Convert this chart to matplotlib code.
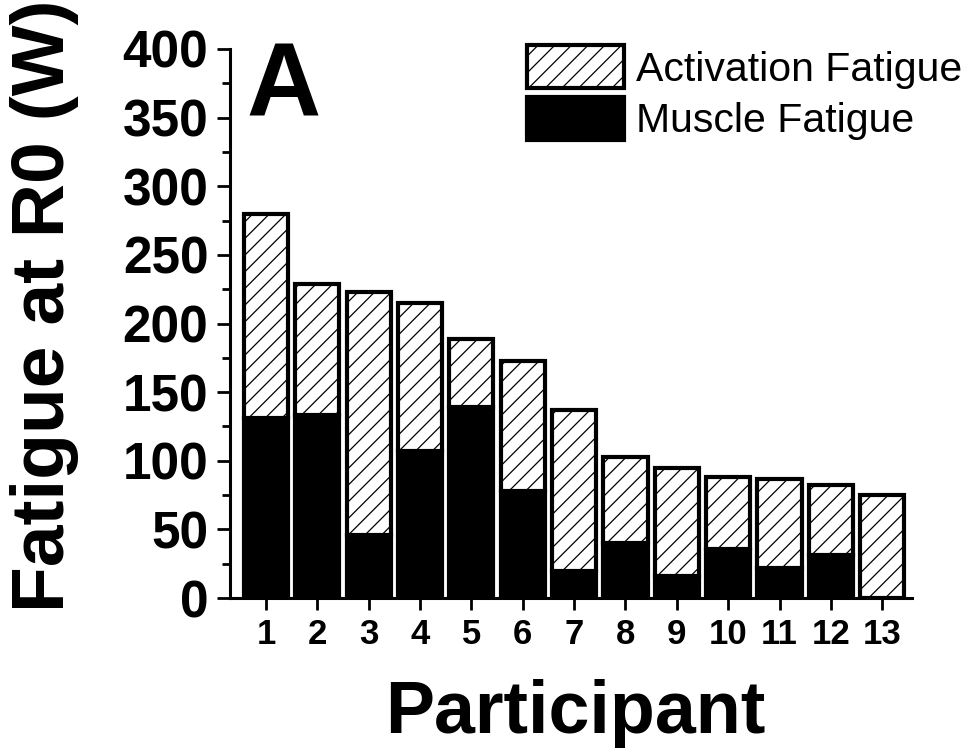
import numpy as np
import matplotlib
matplotlib.use('Agg')
import matplotlib.pyplot as plt
from matplotlib.patches import Patch
from matplotlib.ticker import MultipleLocator

plt.rcParams['font.family'] = ['Liberation Sans', 'DejaVu Sans']
plt.rcParams['hatch.linewidth'] = 0.9

# participant data (W)
participants = np.arange(1, 14)
tick_labels = [str(p) for p in participants]
total_fatigue = [280, 229, 223, 215, 189, 173, 137, 103, 95, 88, 87, 82, 75]
muscle_fatigue = [131, 133, 46, 107, 139, 78, 20, 40, 16, 36, 22, 31, 0]
activation_fatigue = [t - m for t, m in zip(total_fatigue, muscle_fatigue)]

fig = plt.figure(figsize=(9.8, 7.54), dpi=100)
ax = fig.add_axes([230 / 980, 1 - 598 / 754, 682 / 980, 549 / 754])

bar_w = 0.86
ax.bar(participants, muscle_fatigue, width=bar_w, color='black',
       edgecolor='black', linewidth=3, zorder=2)
ax.bar(participants, activation_fatigue, width=bar_w, bottom=muscle_fatigue,
       color='white', edgecolor='black', hatch='//', linewidth=3, zorder=2)

ax.set_xlim(0.3, 13.58)
ax.set_ylim(0, 400)
ax.set_xticks(participants)
ax.set_xticklabels(tick_labels)
ax.yaxis.set_major_locator(MultipleLocator(50))
ax.yaxis.set_minor_locator(MultipleLocator(25))

for s in ['top', 'right']:
    ax.spines[s].set_visible(False)
for s in ['left', 'bottom']:
    ax.spines[s].set_linewidth(2.2)

ax.tick_params(axis='y', which='major', length=9.5, width=2, pad=6,
               labelsize=37)
ax.tick_params(axis='y', which='minor', length=6, width=2)
ax.tick_params(axis='x', which='major', length=8.5, width=2, pad=6,
               labelsize=25)
for lab in ax.get_xticklabels() + ax.get_yticklabels():
    lab.set_fontweight('bold')

fig.text(45 / 980, 1 - 306 / 754, 'Fatigue at R0 (W)', rotation=90,
         ha='center', va='center', fontsize=54, fontweight='bold')
fig.text(575 / 980, 1 - 714 / 754, 'Participant', ha='center',
         va='center', fontsize=53, fontweight='bold')
ax.text(0.024, 1.015, 'A', transform=ax.transAxes, ha='left', va='top',
        fontsize=74, fontweight='bold')

handles = [Patch(facecolor='white', edgecolor='black', hatch='//',
                 linewidth=3),
           Patch(facecolor='black', edgecolor='black', linewidth=3)]
ax.legend(handles, ['Activation Fatigue', 'Muscle Fatigue'],
          loc='upper left', bbox_to_anchor=(0.412, 1.037), frameon=False,
          fontsize=29.5, handlelength=2.36, handleheight=1.25,
          labelspacing=0.2, handletextpad=0.29, borderaxespad=0)

plt.savefig('out.png', dpi=100, facecolor='white')
